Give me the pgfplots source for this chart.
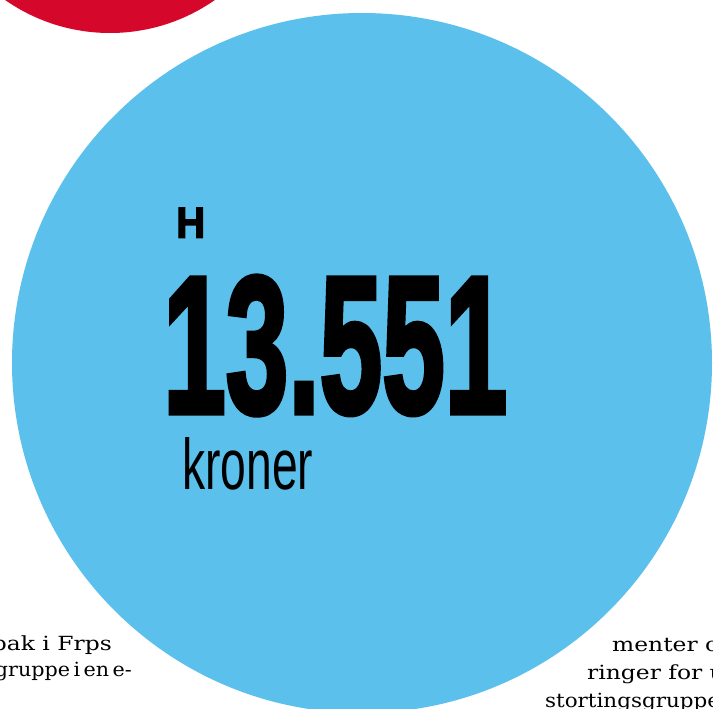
\documentclass[border=0pt]{standalone}
\usepackage{fontspec}
\setmainfont{Liberation Serif}
\newfontfamily\bodyfont{DejaVu Serif}
\newfontfamily\heavyfont{Liberation Sans Bold}[FakeBold=3]
\newfontfamily\lightfont{Liberation Sans}
\usepackage{pgfplots}
\pgfplotsset{compat=1.18}
\definecolor{discblue}{RGB}{91,192,235}
\definecolor{discred}{RGB}{213,7,42}
% body text line, horizontally scaled to the justified width of the column
\newcommand{\bodytext}[2][1.2]{\scalebox{#1}[1]{\bodyfont\fontsize{19.5}{19.5}\selectfont #2}}

\begin{document}
\begin{tikzpicture}
\begin{axis}[
  width=713pt, height=709pt, scale only axis,
  hide axis,
  xmin=0, xmax=713, ymin=0, ymax=709,
  y dir=reverse,
]
% discs: centre x, centre y, radius (in pixels of the page)
\fill[discred] (axis cs:110,-150) circle[radius=183];
\fill[discblue] (axis cs:362,363) circle[radius=350];

\node[anchor=south west, inner sep=0] at (axis cs:176,238) {\resizebox{29pt}{30pt}{\heavyfont H}};
\node[anchor=south west, inner sep=0] at (axis cs:163,415) {\resizebox{344pt}{136pt}{\heavyfont 13.551}};
\node[anchor=south west, inner sep=0] at (axis cs:182,490) {\resizebox{131pt}{52pt}{\lightfont kroner}};

% body text around the graphic
\node[anchor=base east, inner sep=0] at (axis cs:112,650) {\bodytext{pak i Frps}};
\node[anchor=base east, inner sep=0] at (axis cs:132,676) {\bodytext[1.06]{gruppe\,i\,en\,e-}};
\node[anchor=base west, inner sep=0] at (axis cs:612,651) {\bodytext{menter o}};
\node[anchor=base west, inner sep=0] at (axis cs:587,679) {\bodytext{ringer for u}};
\node[anchor=base west, inner sep=0] at (axis cs:545,707) {\bodytext[1.1]{stortingsgruppe}};

\coordinate (bl) at (rel axis cs:0,0);
\coordinate (tr) at (rel axis cs:1,1);
\end{axis}
\pgfresetboundingbox
\path[use as bounding box] (bl) rectangle (tr);
\end{tikzpicture}
\end{document}
